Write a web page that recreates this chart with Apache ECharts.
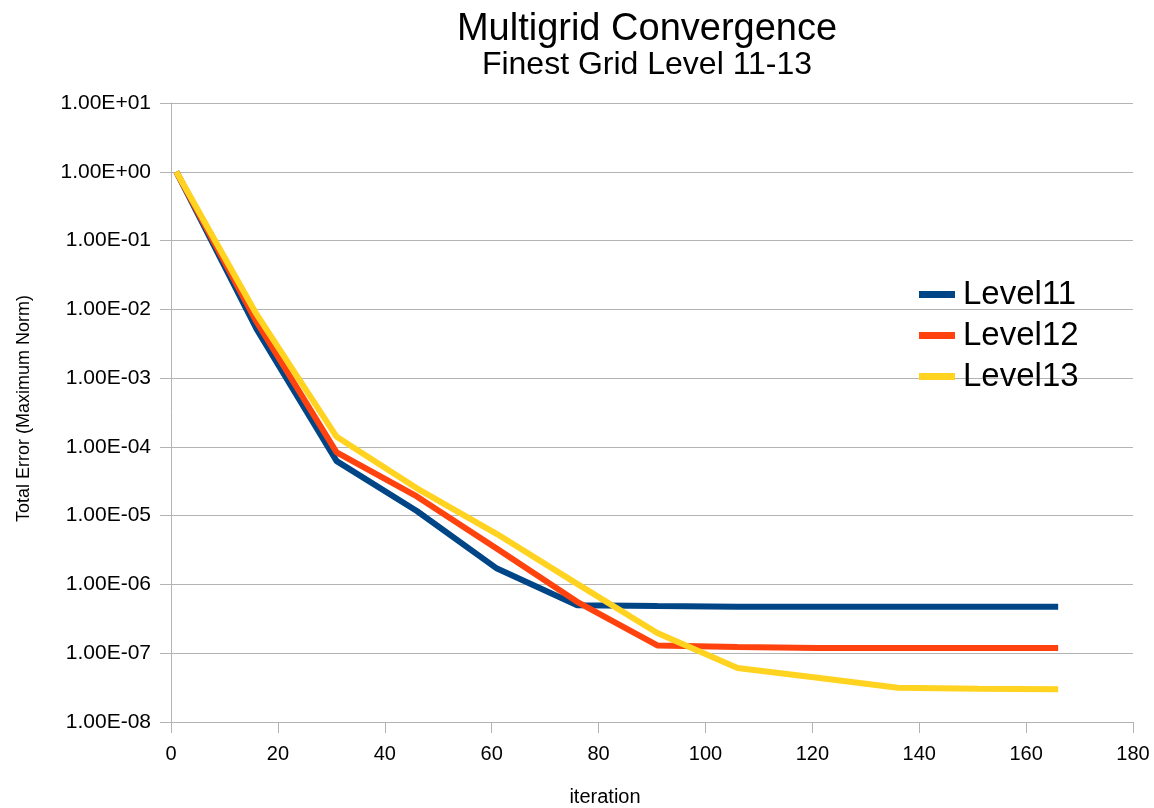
<!DOCTYPE html>
<html>
<head>
<meta charset="utf-8">
<script src="https://cdn.jsdelivr.net/npm/echarts@6/dist/echarts.min.js"></script>
<style>html,body{margin:0;padding:0;background:#fff}#c{width:1154px;height:808px}</style>
</head>
<body>
<div id="c"></div>
<script>
var iterations = [1, 16, 31, 46, 61, 76, 91, 106, 121, 136, 151, 166];
var level11 = [1, 5.2e-3, 6.2e-5, 1.17e-5, 1.7e-6, 5.0e-7, 4.85e-7, 4.75e-7, 4.75e-7, 4.75e-7, 4.75e-7, 4.75e-7];
var level12 = [1, 6.6e-3, 8.3e-5, 1.9e-5, 3.3e-6, 5.6e-7, 1.3e-7, 1.23e-7, 1.19e-7, 1.19e-7, 1.19e-7, 1.19e-7];
var level13 = [1, 8.5e-3, 1.4e-4, 2.5e-5, 5.4e-6, 1.02e-6, 1.97e-7, 6.1e-8, 4.4e-8, 3.15e-8, 3.05e-8, 3.0e-8];
var seriesNames = ['Level11', 'Level12', 'Level13'];
var colors = ['#004586', '#ff420e', '#ffd320'];

function pairs(vals) { return iterations.map(function (x, i) { return [x, vals[i]]; }); }
function fmt(v) {
  var e = Math.round(Math.log10(v));
  var s = e < 0 ? '-' : '+';
  var a = Math.abs(e);
  return '1.00E' + s + (a < 10 ? '0' : '') + a;
}
var font = 'Liberation Sans, Arial, sans-serif';
var chart = echarts.init(document.getElementById('c'));
var data = [level11, level12, level13];
chart.setOption({
  animation: false,
  color: colors,
  textStyle: { fontFamily: font },
  title: [
    { text: 'Multigrid Convergence', left: 642, top: 6, textAlign: 'center',
      textStyle: { fontFamily: font, fontSize: 38, fontWeight: 'normal', color: '#000' } },
    { text: 'Finest Grid Level 11-13', left: 642, top: 44, textAlign: 'center',
      textStyle: { fontFamily: font, fontSize: 32, fontWeight: 'normal', color: '#000' } }
  ],
  legend: {
    orient: 'vertical', left: 914, top: 273, itemWidth: 36, itemHeight: 7, itemGap: 8,
    icon: 'rect',
    textStyle: { fontFamily: font, fontSize: 33, color: '#000', lineHeight: 33, padding: [0, 0, 0, 3] },
    data: seriesNames
  },
  grid: { left: 171, right: 21, top: 103, bottom: 86, outerBoundsMode: 'none', containLabel: false },
  xAxis: {
    type: 'value', min: 0, max: 180, interval: 20,
    name: 'iteration', nameLocation: 'middle', nameGap: 65,
    nameTextStyle: { fontFamily: font, fontSize: 20, color: '#000', padding: [0, 94, 0, 0] },
    axisLine: { show: true, lineStyle: { color: '#b3b3b3', width: 1 } },
    axisTick: { show: true, length: 11, lineStyle: { color: '#b3b3b3' } },
    axisLabel: { fontFamily: font, fontSize: 20, color: '#000', margin: 22 },
    splitLine: { show: false }
  },
  yAxis: {
    type: 'log', logBase: 10, min: 1e-8, max: 10,
    name: 'Total Error (Maximum Norm)', nameLocation: 'middle', nameGap: 138, nameRotate: 90,
    nameTextStyle: { fontFamily: font, fontSize: 18, color: '#000', padding: [0, 0, 0, 8] },
    axisLine: { show: true, lineStyle: { color: '#b3b3b3', width: 1 } },
    axisTick: { show: true, length: 11, lineStyle: { color: '#b3b3b3' } },
    axisLabel: { fontFamily: font, fontSize: 21, color: '#000', margin: 20, formatter: fmt },
    splitLine: { show: true, lineStyle: { color: '#b3b3b3', width: 1 } },
    minorTick: { show: false }
  },
  series: seriesNames.map(function (n, i) {
    return {
      name: n, type: 'line', data: pairs(data[i]), symbol: 'none',
      lineStyle: { width: 6, color: colors[i], join: 'bevel' }, itemStyle: { color: colors[i] }
    };
  })
});
</script>
</body>
</html>
